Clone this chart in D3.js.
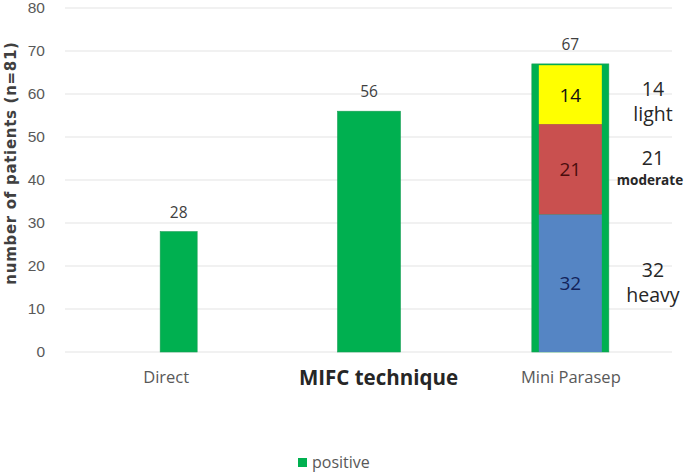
<!DOCTYPE html>
<html>
<head>
<meta charset="utf-8">
<script src="https://cdn.jsdelivr.net/npm/d3@7"></script>
<style>
  body { margin: 0; background: #fff; }
  svg { display: block; font-family: "Open Sans", "Noto Sans", sans-serif; }
</style>
</head>
<body>
<div id="chart"></div>
<script>
// data
const categories = ["Direct", "MIFC technique", "Mini Parasep"];
const positive = [28, 56, 67];
const stackLabels = ["heavy", "moderate", "light"];
const stackValues = [32, 21, 14];
const yTicks = [0, 10, 20, 30, 40, 50, 60, 70, 80];

const width = 685, height = 473;
const plotLeft = 65, plotRight = 672, plotTop = 8, plotBottom = 352;

const green = "#00b050";
const stackColors = ["#5585c4", "#c9504f", "#ffff00"];
const stackText = ["#13235a", "#4a0d0d", "#111"];
// bar width and horizontal nudge per category
const barStyle = [{w: 37, dx: 12.5}, {w: 63, dx: 0.5}, {w: 77, dx: -0.5}];

const svg = d3.select("#chart").append("svg")
    .attr("width", width)
    .attr("height", height);

const x = d3.scaleBand().domain(categories).range([plotLeft, plotRight]).padding(0);
const y = d3.scaleLinear().domain([0, 80]).range([plotBottom, plotTop]);

// gridlines
svg.append("g")
    .selectAll("line")
    .data(yTicks)
    .enter().append("line")
    .attr("x1", plotLeft).attr("x2", plotRight)
    .attr("y1", d => y(d)).attr("y2", d => y(d))
    .attr("stroke", "#e3e3e3")
    .attr("stroke-width", 1);

// y axis labels
const yAxis = svg.append("g")
    .attr("transform", `translate(${plotLeft - 20},0)`)
    .call(d3.axisLeft(y).tickValues(yTicks).tickSize(0).tickPadding(0));
yAxis.select(".domain").remove();
yAxis.selectAll("text")
    .attr("fill", "#595959")
    .style("font-size", "15.5px");

svg.append("text")
    .attr("transform", "translate(16,163) rotate(-90)")
    .attr("text-anchor", "middle")
    .attr("fill", "#404040")
    .style("font-family", "'DejaVu Sans', sans-serif")
    .style("font-size", "15px")
    .style("font-weight", "bold")
    .style("letter-spacing", "0.7px")
    .text("number of patients (n=81)");

const cx = (d, i) => x(d) + x.bandwidth() / 2 + barStyle[i].dx;

// green bars
svg.append("g")
    .selectAll("rect")
    .data(categories)
    .enter().append("rect")
    .attr("x", (d, i) => cx(d, i) - barStyle[i].w / 2)
    .attr("width", (d, i) => barStyle[i].w)
    .attr("y", (d, i) => y(positive[i]))
    .attr("height", (d, i) => y(0) - y(positive[i]))
    .attr("fill", green)
    .attr("stroke", "#1a9e55")
    .attr("stroke-width", 0.6);

// value labels
svg.append("g")
    .selectAll("text")
    .data(categories)
    .enter().append("text")
    .attr("x", (d, i) => cx(d, i))
    .attr("y", (d, i) => y(positive[i]) - 14)
    .attr("text-anchor", "middle")
    .attr("fill", "#404040")
    .style("font-size", "15.5px")
    .text((d, i) => positive[i]);

// stacked breakdown inside the Mini Parasep bar
const stackCat = categories[2];
const stackX = cx(stackCat, 2);
const innerW = 63;
let acc = 0;
const segs = stackValues.map((v, i) => {
  const s = {y0: acc, y1: acc + v, v: v, label: stackLabels[i], i: i};
  acc += v;
  return s;
});
segs[segs.length - 1].y1 = Math.min(segs[segs.length - 1].y1, positive[2] - 0.3);

svg.append("g")
    .selectAll("rect")
    .data(segs)
    .enter().append("rect")
    .attr("x", stackX - innerW / 2)
    .attr("width", innerW)
    .attr("y", d => y(d.y1))
    .attr("height", d => y(d.y0) - y(d.y1))
    .attr("fill", d => stackColors[d.i]);

svg.append("g")
    .selectAll("text")
    .data(segs)
    .enter().append("text")
    .attr("x", stackX)
    .attr("y", d => y((d.y0 + d.y1) / 2) + 7)
    .attr("text-anchor", "middle")
    .attr("fill", d => stackText[d.i])
    .style("font-size", "19px")
    .text(d => d.v);

// side annotations (offsets from segment middle: number, word)
const noteX = 653;
const noteDy = [[-6, 19], [-4, 16], [1, 26]];
const notes = svg.append("g");
segs.forEach(s => {
  const c = y((s.y0 + s.y1) / 2);
  const small = s.label === "moderate";
  notes.append("text")
      .attr("x", noteX).attr("y", c + noteDy[s.i][0])
      .attr("text-anchor", "middle")
      .attr("fill", "#262626")
      .style("font-size", "19.5px")
      .text(s.v);
  notes.append("text")
      .attr("x", small ? 650 : noteX).attr("y", c + noteDy[s.i][1])
      .attr("text-anchor", "middle")
      .attr("fill", "#262626")
      .style("font-size", small ? "13.5px" : "19.5px")
      .style("font-weight", small ? "bold" : "normal")
      .text(s.label);
});

// category labels
svg.append("g")
    .selectAll("text")
    .data(categories)
    .enter().append("text")
    .attr("x", (d, i) => i === 1 ? x(d) + x.bandwidth() / 2 + 10 : x(d) + x.bandwidth() / 2)
    .attr("y", (d, i) => i === 1 ? 385 : 383)
    .attr("text-anchor", "middle")
    .attr("fill", (d, i) => i === 1 ? "#262626" : "#595959")
    .style("font-size", (d, i) => i === 1 ? "20.5px" : "16.5px")
    .style("font-weight", (d, i) => i === 1 ? "bold" : "normal")
    .text(d => d);

// legend
const legend = svg.append("g").attr("transform", "translate(298,458)");
legend.append("rect")
    .attr("width", 9).attr("height", 9)
    .attr("fill", green);
legend.append("text")
    .attr("x", 14).attr("y", 10)
    .attr("fill", "#595959")
    .style("font-size", "16px")
    .text("positive");
</script>
</body>
</html>
